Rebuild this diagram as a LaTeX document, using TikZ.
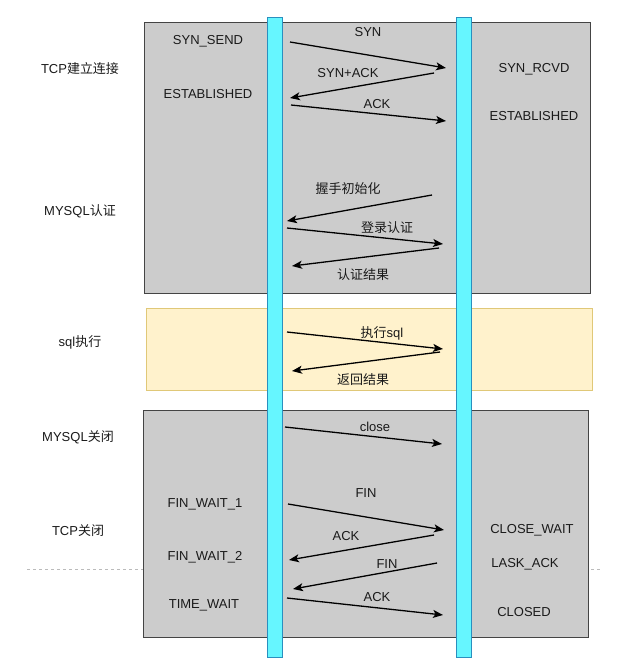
\documentclass[tikz,border=0pt]{standalone}
\usepackage{fontspec}
\setmainfont{Liberation Sans}
\newfontfamily\cjk{Noto Sans CJK SC}
\usetikzlibrary{arrows.meta}
\definecolor{boxgray}{HTML}{CCCCCC}
\definecolor{boxline}{HTML}{444444}
\definecolor{sqlfill}{HTML}{FFF2CC}
\definecolor{sqlline}{HTML}{E0C878}
\definecolor{barfill}{HTML}{66F6FF}
\definecolor{barline}{HTML}{2A8FBF}
\definecolor{dashgray}{HTML}{BBBBBB}
\definecolor{txt}{HTML}{1A1A1A}
\begin{document}
\begin{tikzpicture}[x=1pt,y=-1pt,
  phasebox/.style={draw=boxline,fill=boxgray,line width=1pt,anchor=north west,inner sep=0pt,outer sep=0pt},
  sqlbox/.style={draw=sqlline,fill=sqlfill,line width=1pt,anchor=north west,inner sep=0pt,outer sep=0pt},
  lifeline/.style={draw=barline,fill=barfill,line width=1pt,anchor=north west,inner sep=0pt,outer sep=0pt,minimum width=15pt,minimum height=640pt},
  msg/.style={-{Stealth[length=10pt,width=8pt,inset=2.5pt]},line width=1.3pt,black},
  lbl/.style={font=\fontsize{13}{15}\selectfont,text=txt,inner sep=0pt}]
\useasboundingbox (0,0) rectangle (628,667);
% dashed separator
\coordinate (dl) at (27,569);
\coordinate (dr) at (600,569);
\draw[dashgray,dashed,line width=0.8pt] (dl) -- (dr);
% phase boxes
\node[phasebox,minimum width=446pt,minimum height=271pt] (tcpbox) at (144,22) {};
\node[sqlbox,minimum width=446pt,minimum height=82pt] (execbox) at (146,308) {};
\node[phasebox,minimum width=445pt,minimum height=227pt] (closebox) at (143,410) {};
% lifelines
\node[lifeline] (client) at (267,17) {};
\node[lifeline] (server) at (456,17) {};
% phase labels
\node[lbl] (p1) at (80,69) {TCP{\cjk 建立连接}};
\node[lbl] (p2) at (80,211) {MYSQL{\cjk 认证}};
\node[lbl] (p3) at (80,342) {sql{\cjk 执行}};
\node[lbl] (p4) at (78,437) {MYSQL{\cjk 关闭}};
\node[lbl] (p5) at (78,531) {TCP{\cjk 关闭}};
% client states
\node[lbl] (c1) at (208,41) {SYN\_SEND};
\node[lbl] (c2) at (208,94) {ESTABLISHED};
\node[lbl] (c3) at (205,504) {FIN\_WAIT\_1};
\node[lbl] (c4) at (205,557) {FIN\_WAIT\_2};
\node[lbl] (c5) at (204,605) {TIME\_WAIT};
% server states
\node[lbl] (s1) at (534,69) {SYN\_RCVD};
\node[lbl] (s2) at (534,116) {ESTABLISHED};
\node[lbl] (s3) at (532,530) {CLOSE\_WAIT};
\node[lbl] (s4) at (525,564) {LASK\_ACK};
\node[lbl] (s5) at (524,612) {CLOSED};
% message labels
\node[lbl] (l1) at (368,32) {SYN};
\node[lbl] (l2) at (348,73) {SYN+ACK};
\node[lbl] (l3) at (377,104) {ACK};
\node[lbl] (l4) at (348,189) {\cjk 握手初始化};
\node[lbl] (l5) at (387,228) {\cjk 登录认证};
\node[lbl] (l6) at (363,275) {\cjk 认证结果};
\node[lbl] (l7) at (382,333) {{\cjk 执行}sql};
\node[lbl] (l8) at (363,380) {\cjk 返回结果};
\node[lbl] (l9) at (375,427) {close};
\node[lbl] (l10) at (366,493) {FIN};
\node[lbl] (l11) at (346,536) {ACK};
\node[lbl] (l12) at (387,564) {FIN};
\node[lbl] (l13) at (377,597) {ACK};
% message end points
\coordinate (a1s) at (290,42);  \coordinate (a1e) at (446,68);
\coordinate (a2s) at (434,73);  \coordinate (a2e) at (290,98);
\coordinate (a3s) at (291,105); \coordinate (a3e) at (446,121);
\coordinate (a4s) at (432,195); \coordinate (a4e) at (287,221);
\coordinate (a5s) at (287,228); \coordinate (a5e) at (443,244);
\coordinate (a6s) at (439,248); \coordinate (a6e) at (292,266);
\coordinate (a7s) at (287,332); \coordinate (a7e) at (443,349);
\coordinate (a8s) at (440,352); \coordinate (a8e) at (292,371);
\coordinate (a9s) at (285,427); \coordinate (a9e) at (442,444);
\coordinate (a10s) at (288,504); \coordinate (a10e) at (444,530);
\coordinate (a11s) at (434,535); \coordinate (a11e) at (289,560);
\coordinate (a12s) at (437,563); \coordinate (a12e) at (293,589);
\coordinate (a13s) at (287,598); \coordinate (a13e) at (443,615);
\foreach \i in {1,...,13} {\draw[msg] (a\i s) -- (a\i e);}
\end{tikzpicture}
\end{document}
